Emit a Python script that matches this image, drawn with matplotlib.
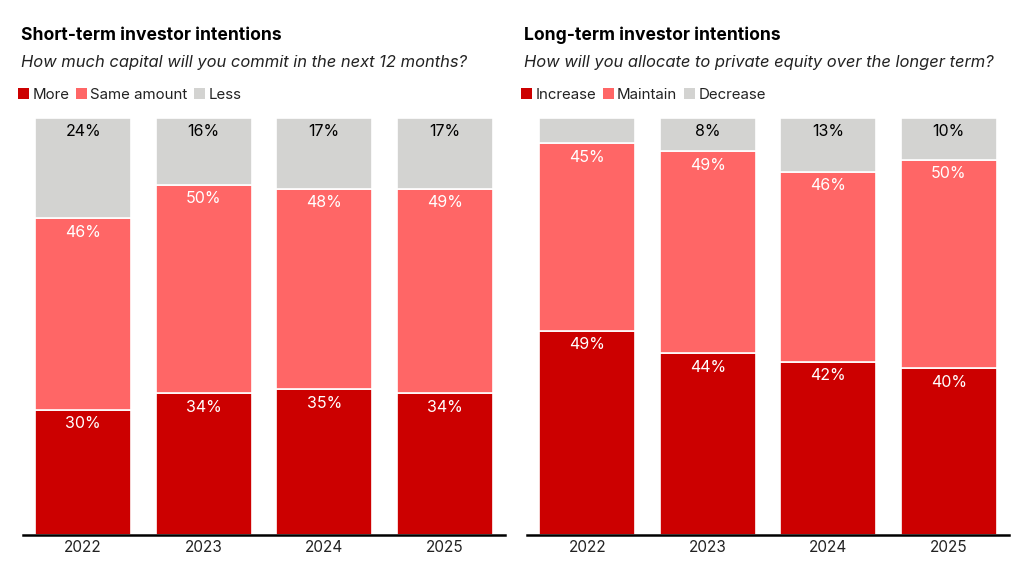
import numpy as np
from matplotlib import pyplot as plt
from matplotlib.patches import Patch

plt.rcParams['font.family'] = ['Inter', 'DejaVu Sans']

years = ['2022', '2023', '2024', '2025']

short_more = [30, 34, 35, 34]
short_same = [46, 50, 48, 49]
short_less = [24, 16, 17, 17]

long_increase = [49, 44, 42, 40]
long_maintain = [45, 49, 46, 50]
long_decrease = [6, 8, 13, 10]

colours = ['#cc0000', '#ff6666', '#d3d3d1']
text_colours = ['white', 'white', 'black']


def draw_panel(ax, series, names, title, subtitle, fig, x0):
    data = np.array(series, dtype=float)
    totals = data.sum(axis=0)
    shares = data / totals * 100
    x = np.arange(len(years))
    bottom = np.zeros(len(years))
    for i, vals in enumerate(shares):
        ax.bar(x, vals, bottom=bottom, width=0.8, color=colours[i],
               edgecolor='white', linewidth=1.2, zorder=2)
        for j, v in enumerate(vals):
            if series[i][j] < 7:
                continue
            ax.annotate(f'{series[i][j]}%', (x[j], bottom[j] + v),
                        xytext=(0, -14), textcoords='offset pixels',
                        ha='center', va='center', fontsize=11.5,
                        color=text_colours[i], fontweight='normal')
        bottom += vals
    ax.set_xlim(-0.5, 3.5)
    ax.set_ylim(0, 100)
    ax.set_xticks(x)
    ax.set_xticklabels(years, fontsize=11, color='#222222')
    ax.tick_params(axis='x', length=0, pad=3.5)
    ax.set_yticks([])
    for s in ['top', 'right', 'left']:
        ax.spines[s].set_visible(False)
    ax.spines['bottom'].set_linewidth(1.8)
    ax.spines['bottom'].set_zorder(3)

    fig.text(x0, 1 - 35 / 566, title, fontsize=12.6, fontweight='bold',
             ha='left', va='center')
    fig.text(x0, 1 - 63 / 566, subtitle, fontsize=11.9, style='italic',
             ha='left', va='center', color='#222222')
    handles = [Patch(facecolor=c, edgecolor='none') for c in colours]
    fig.legend(handles, names, loc='center left',
               bbox_to_anchor=(x0 - 0.003, 1 - 95 / 566), ncol=3,
               frameon=False, fontsize=10.8, handlelength=0.75,
               handleheight=0.75, handletextpad=0.2, columnspacing=0.45,
               borderpad=0, borderaxespad=0, labelcolor='#222222')


fig = plt.figure(figsize=(10.2, 5.66), dpi=100)
ax1 = fig.add_axes([23 / 1020, 31 / 566, 482 / 1020, 417 / 566])
ax2 = fig.add_axes([527 / 1020, 31 / 566, 482 / 1020, 417 / 566])

draw_panel(ax1, [short_more, short_same, short_less],
           ['More', 'Same amount', 'Less'],
           'Short-term investor intentions',
           'How much capital will you commit in the next 12 months?',
           fig, 21 / 1020)
draw_panel(ax2, [long_increase, long_maintain, long_decrease],
           ['Increase', 'Maintain', 'Decrease'],
           'Long-term investor intentions',
           'How will you allocate to private equity over the longer term?',
           fig, 524 / 1020)

fig.savefig('out.png', dpi=100)
